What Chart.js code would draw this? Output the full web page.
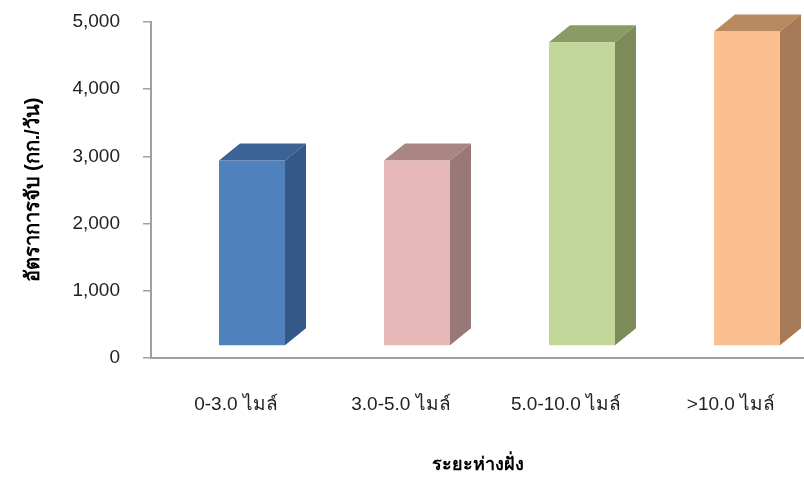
<!DOCTYPE html>
<html>
<head>
<meta charset="utf-8">
<script src="https://cdn.jsdelivr.net/npm/chart.js@4/dist/chart.umd.min.js"></script>
<style>
  html, body { margin: 0; padding: 0; background: #ffffff; overflow: hidden; }
  canvas { display: block; }
</style>
</head>
<body>
<canvas id="chart" width="804" height="478"></canvas>
<script>
// Catch rate by distance from shore (kg/day)
const categories = ['0-3.0 ไมล์', '3.0-5.0 ไมล์', '5.0-10.0 ไมล์', '>10.0 ไมล์'];
const catchRate = [2940, 2940, 4700, 4860];
const yTickValues = [0, 1000, 2000, 3000, 4000, 5000];

// Face colours of each box: front, right side, top
const frontColors = ['#4f81bd', '#e6b9b8', '#c4d79b', '#fac090'];
const sideColors  = ['#345887', '#9a7878', '#7d8b5a', '#a67a56'];
const topColors   = ['#3b6396', '#a98583', '#8a9b66', '#b98a5f'];

const AXIS_GREY = '#a0a0a0';
const TEXT = '#222222';
const FONT = '"Liberation Sans", Arial, sans-serif';

// Keep the plot area exactly where the layout padding puts it
function noEdgePadding(scale) {
  scale.paddingTop = 0;
  scale.paddingBottom = 0;
  scale.paddingLeft = 0;
  scale.paddingRight = 0;
}

// Draws each bar as a box with a front, right side and top face
const boxBars = {
  id: 'boxBars',
  afterDatasetsDraw(chart) {
    const ctx = chart.ctx;
    const meta = chart.getDatasetMeta(0);
    const depthX = 21, depthY = 17, floorInset = 12;
    meta.data.forEach((el, i) => {
      const { x, y, base, width } = el.getProps(['x', 'y', 'base', 'width'], true);
      const l = x - width / 2, r = x + width / 2, b = base - floorInset;
      ctx.save();
      // top face
      ctx.fillStyle = topColors[i];
      ctx.beginPath();
      ctx.moveTo(l, y);
      ctx.lineTo(l + depthX, y - depthY);
      ctx.lineTo(r + depthX, y - depthY);
      ctx.lineTo(r, y);
      ctx.closePath();
      ctx.fill();
      // right side face
      ctx.fillStyle = sideColors[i];
      ctx.beginPath();
      ctx.moveTo(r, y);
      ctx.lineTo(r + depthX, y - depthY);
      ctx.lineTo(r + depthX, b - depthY);
      ctx.lineTo(r, b);
      ctx.closePath();
      ctx.fill();
      // front face
      ctx.fillStyle = frontColors[i];
      ctx.fillRect(l, y, r - l, b - y);
      ctx.restore();
    });
  }
};

new Chart(document.getElementById('chart'), {
  type: 'bar',
  data: {
    datasets: [{
      label: 'อัตราการจับ',
      data: catchRate.map((v, i) => ({ x: i, y: v })),
      backgroundColor: 'rgba(0,0,0,0)',
      borderWidth: 0,
      barThickness: 66
    }]
  },
  options: {
    responsive: false,
    animation: false,
    devicePixelRatio: 1,
    layout: { padding: { top: 22, right: 0, bottom: 0, left: 0 } },
    plugins: {
      legend: { display: false },
      tooltip: { enabled: false }
    },
    scales: {
      x: {
        type: 'linear',
        offset: false,
        min: -0.612,
        max: 3.3455,
        afterBuildTicks: (scale) => { scale.ticks = categories.map((_, i) => ({ value: i })); },
        afterFit: (scale) => { scale.height = 120; noEdgePadding(scale); },
        grid: { display: false, drawTicks: false },
        border: { display: true, color: AXIS_GREY, width: 2 },
        ticks: {
          callback: (value) => categories[value],
          labelOffset: -16,
          padding: 35,
          autoSkip: false,
          maxRotation: 0,
          color: TEXT,
          font: { family: FONT, size: 19 }
        },
        title: {
          display: true,
          text: 'ระยะห่างฝั่ง',
          color: '#000000',
          font: { family: FONT, size: 18, weight: 'bold' },
          padding: { top: 0, bottom: 2 }
        }
      },
      y: {
        min: 0,
        max: 5000,
        afterBuildTicks: (scale) => { scale.ticks = yTickValues.map(v => ({ value: v })); },
        afterFit: (scale) => { scale.width = 151; noEdgePadding(scale); },
        grid: { drawOnChartArea: false, drawTicks: true, tickLength: 8, color: AXIS_GREY, lineWidth: 1.5 },
        border: { display: true, color: AXIS_GREY, width: 2 },
        ticks: {
          callback: (value) => value.toLocaleString('en-US'),
          padding: 23,
          color: TEXT,
          font: { family: FONT, size: 19 }
        },
        title: {
          display: true,
          text: 'อัตราการจับ (กก./วัน)',
          color: '#000000',
          font: { family: FONT, size: 20, weight: 'bold' },
          padding: { top: 21, bottom: 0 }
        }
      }
    }
  },
  plugins: [boxBars]
});
</script>
</body>
</html>
